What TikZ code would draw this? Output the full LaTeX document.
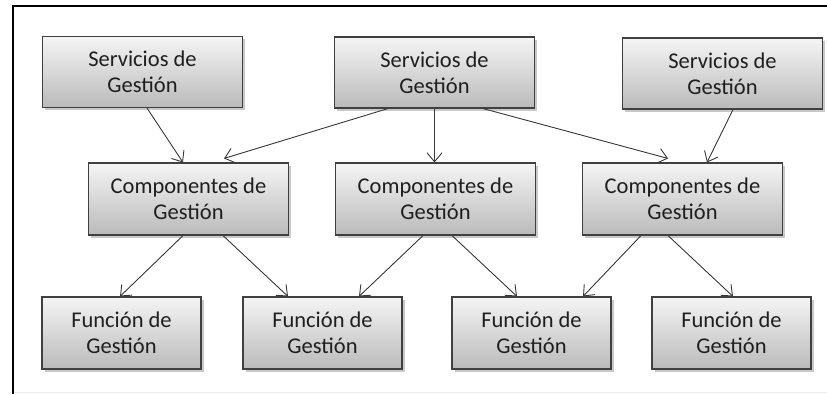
\documentclass[tikz,border=0pt]{standalone}
\usepackage{fontspec}
\setmainfont{Carlito}
\usetikzlibrary{arrows.meta,shadows,calc}
\tikzset{
  gbox/.style={draw=black!75, line width=1.1pt, top color=black!4, bottom color=black!27,
    text=black!88, align=center, font=\fontsize{22.5}{26}\selectfont, inner sep=0pt,
    minimum height=71pt,
    drop shadow={shadow xshift=2.5pt, shadow yshift=-2.5pt, opacity=0.35, fill=black!60}},
  wbox/.style={gbox, minimum width=200pt},
  nbox/.style={gbox, minimum width=159pt},
  conn/.style={draw=black!78, line width=0.9pt, -{Straight Barb[length=9pt,width=15pt,line width=0.9pt]}},
}
\begin{document}
\begin{tikzpicture}[x=1pt,y=-1pt]
\useasboundingbox (0,0) rectangle (827,394);
\fill[white] (0,0) rectangle (827,394);
\draw[black!8, line width=1pt] (14,392) -- (827,392);
\draw[black, line width=2.5pt] (13,394) -- (13,6) -- (827,6);

\node[wbox] (S1) at (142.5,72) {Servicios de\\Gestión};
\node[wbox] (S2) at (434.5,72.5) {Servicios de\\Gestión};
\node[wbox] (S3) at (722.5,73.5) {Servicios de\\Gestión};

\node[wbox, minimum height=72pt] (C1) at (188.5,199) {Componentes de\\Gestión};
\node[wbox, minimum height=72pt] (C2) at (435.5,199) {Componentes de\\Gestión};
\node[wbox, minimum height=72pt] (C3) at (682.5,199) {Componentes de\\Gestión};

\node[nbox, minimum height=72pt] (F1) at (121.5,333) {Función de\\Gestión};
\node[nbox, minimum height=72pt] (F2) at (322.5,333) {Función de\\Gestión};
\node[nbox, minimum height=72pt] (F3) at (531.5,333) {Función de\\Gestión};
\node[nbox, minimum height=72pt] (F4) at (731.5,333) {Función de\\Gestión};

\draw[conn] ([xshift=4.5pt]S1.south) -- ([xshift=-5.5pt]C1.north);
\draw[conn] ([xshift=-46.5pt]S2.south) -- ([xshift=35.5pt,yshift=4pt]C1.north);
\draw[conn] (S2.south) -- (S2.south |- C2.north);
\draw[conn] ([xshift=48.5pt]S2.south) -- ([xshift=-14.5pt,yshift=4pt]C3.north);
\draw[conn] ([xshift=10.5pt]S3.south) -- ([xshift=24.5pt]C3.north);

\draw[conn] ([xshift=-5.5pt]C1.south) -- ([xshift=-1.5pt]F1.north);
\draw[conn] ([xshift=34.5pt]C1.south) -- ([xshift=-34.5pt]F2.north);
\draw[conn] ([xshift=-12.5pt]C2.south) -- ([xshift=36.5pt]F2.north);
\draw[conn] ([xshift=16.5pt]C2.south) -- ([xshift=-14.5pt]F3.north);
\draw[conn] ([xshift=-41.5pt]C3.south) -- ([xshift=51.5pt]F3.north);
\draw[conn] ([xshift=-14.5pt]C3.south) -- ([xshift=1.5pt]F4.north);
\end{tikzpicture}
\end{document}
